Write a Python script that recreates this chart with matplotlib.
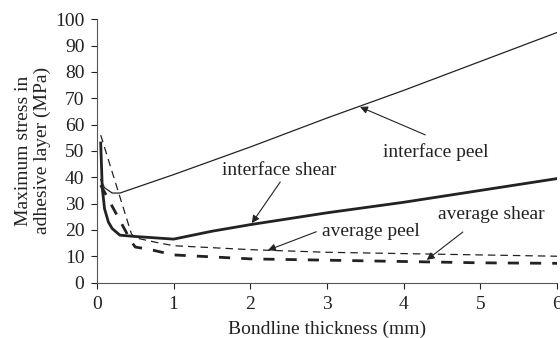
import matplotlib.pyplot as plt

plt.rcParams["font.family"] = ["Liberation Serif", "DejaVu Serif"]

# bondline thickness (mm) and max stresses (MPa)
x_if_peel = [0.05, 0.1, 0.2, 0.3, 1, 2, 3, 4, 5, 6]
if_peel = [39, 36, 34, 34, 41, 51.5, 62.5, 73, 84, 95]

x_if_shear = [0.05, 0.07, 0.1, 0.15, 0.2, 0.3, 0.5, 1, 1.5, 2, 3, 4, 5, 6]
if_shear = [53, 36, 28, 23, 20.5, 18, 17.5, 16.5, 19.5, 22, 26.5, 30.5, 35, 39.5]

x_avg_peel = [0.05, 0.45, 0.5, 0.75, 1, 2, 3, 4, 5, 6]
avg_peel = [56, 18.5, 17, 15.4, 14, 12.5, 11.5, 11, 10.5, 10]

x_avg_shear = [0.05, 0.45, 0.5, 0.7, 1, 2, 3, 4, 5, 6]
avg_shear = [37, 15.5, 13.5, 12.5, 10.5, 9, 8.5, 8, 7.5, 7.3]

fig = plt.figure(figsize=(5.6, 3.38), dpi=100)
ax = fig.add_axes([0.173, 0.164, 0.822, 0.779])

c = "#222222"
fs = 14
ax.plot(x_if_peel, if_peel, color=c, lw=0.9)
ax.plot(x_if_shear, if_shear, color=c, lw=2.0)
ax.plot(x_avg_peel, avg_peel, color=c, lw=0.9, dashes=(6, 4))
ax.plot(x_avg_shear, avg_shear, color=c, lw=2.0, dashes=(4, 4))

ax.set_xlim(0, 6)
ax.set_ylim(0, 100)
ax.set_xticks(range(0, 7))
ax.set_yticks(range(0, 101, 10))
ax.tick_params(direction="out", length=4, width=0.8, labelsize=fs, colors=c)
ax.tick_params(axis="x", pad=6)
ax.tick_params(axis="y", pad=5)
for s in ["top", "right"]:
    ax.spines[s].set_visible(False)
for s in ["left", "bottom"]:
    ax.spines[s].set_color("#555555")
    ax.spines[s].set_linewidth(0.8)

ax.set_xlabel("Bondline thickness (mm)", fontsize=fs, color=c, labelpad=5)
ax.set_ylabel("Maximum stress in\nadhesive layer (MPa)", fontsize=fs, color=c,
              linespacing=1.1, labelpad=3)

arrow = dict(arrowstyle="-|>", lw=0.8, color=c, mutation_scale=11, shrinkA=0, shrinkB=0)
labels = [
    ("interface peel", (3.43, 66.7), (4.28, 56.1), (4.42, 49.5)),
    ("interface shear", (2.02, 22.6), (2.39, 38.2), (2.38, 42.5)),
    ("average peel", (2.23, 12.3), (2.86, 19.3), (3.57, 19.3)),
    ("average shear", (4.30, 8.6), (4.77, 19.2), (5.14, 25.7)),
]
for txt, tip, start, pos in labels:
    ax.annotate("", xy=tip, xytext=start, arrowprops=arrow)
    ax.text(pos[0], pos[1], txt, fontsize=fs, color=c, ha="center", va="center")

fig.savefig("out.png", dpi=100)
